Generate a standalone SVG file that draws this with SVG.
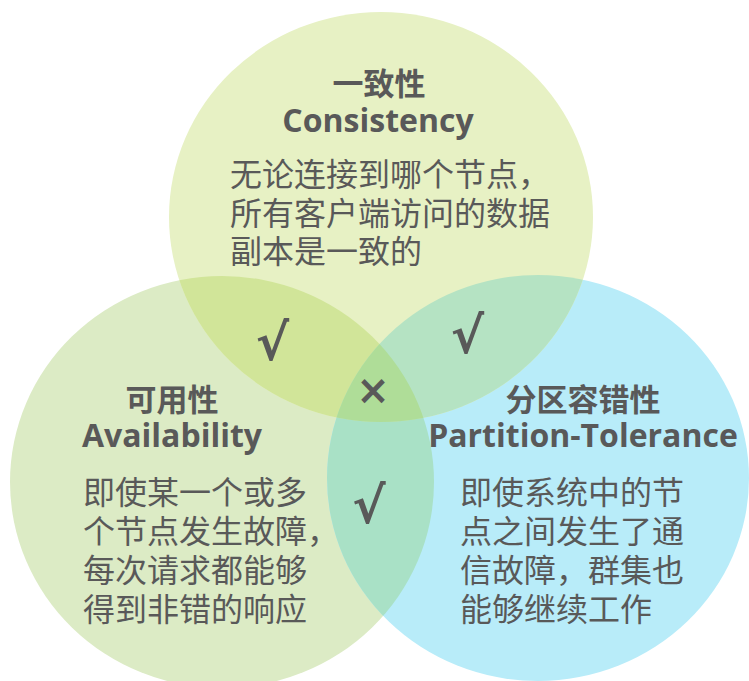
<svg xmlns="http://www.w3.org/2000/svg" width="749" height="681" viewBox="0 0 749 681">
<defs>
<style>
.t{fill:#595959;font-family:"Open Sans","Noto Sans CJK SC",sans-serif;font-weight:bold;font-size:32px;text-anchor:middle}
.zh{font-family:"Liberation Sans","Noto Sans CJK SC",sans-serif;font-size:31px}
.b{fill:#595959;font-family:"Liberation Sans","Noto Sans CJK SC",sans-serif;font-size:32px}
.m{fill:#595959;font-family:"DejaVu Sans",sans-serif;font-weight:bold;font-size:50px;text-anchor:middle}
.x{fill:#595959;font-family:"DejaVu Sans",sans-serif;font-weight:bold;font-size:40px;text-anchor:middle}
</style>
<clipPath id="cL"><ellipse cx="222" cy="482" rx="212" ry="206"/></clipPath>
<clipPath id="cR"><ellipse cx="538" cy="478" rx="211" ry="203"/></clipPath>
</defs>
<rect width="749" height="681" fill="#ffffff"/>
<g id="regions">
<ellipse cx="222" cy="482" rx="212" ry="206" fill="#dcebc5"/>
<ellipse cx="538" cy="478" rx="211" ry="203" fill="#b8ecf9"/>
<ellipse cx="381" cy="217" rx="212" ry="205" fill="#e7f1c4"/>
<g clip-path="url(#cR)"><ellipse cx="222" cy="482" rx="212" ry="206" fill="#a9e1c6"/></g>
<g clip-path="url(#cL)"><ellipse cx="381" cy="217" rx="212" ry="205" fill="#d1e599"/></g>
<g clip-path="url(#cR)"><ellipse cx="381" cy="217" rx="212" ry="205" fill="#b5e3c3"/></g>
<g clip-path="url(#cR)"><g clip-path="url(#cL)"><ellipse cx="381" cy="217" rx="212" ry="205" fill="#afdd98"/></g></g>
</g>
<g id="consistency">
<text class="t"><tspan class="zh" x="379" y="95">一致性</tspan><tspan x="378" y="132">Consistency</tspan></text>
<text class="b"><tspan x="230" y="186">无论连接到哪个节点，</tspan><tspan x="230" y="224.5">所有客户端访问的数据</tspan><tspan x="230" y="263">副本是一致的</tspan></text>
</g>
<g id="availability">
<text class="t"><tspan class="zh" x="172" y="411">可用性</tspan><tspan x="172" y="447">Availability</tspan></text>
<text class="b"><tspan x="83" y="504">即使某一个或多</tspan><tspan x="83" y="543">个节点发生故障，</tspan><tspan x="83" y="582">每次请求都能够</tspan><tspan x="83" y="621">得到非错的响应</tspan></text>
</g>
<g id="partition">
<text class="t"><tspan class="zh" x="583" y="411">分区容错性</tspan><tspan x="583" y="447">Partition-Tolerance</tspan></text>
<text class="b"><tspan x="460" y="504">即使系统中的节</tspan><tspan x="460" y="543">点之间发生了通</tspan><tspan x="460" y="582">信故障，群集也</tspan><tspan x="460" y="621">能够继续工作</tspan></text>
</g>
<g id="marks">
<text class="m" x="272.5" y="360">√</text>
<text class="m" x="467.5" y="353">√</text>
<text class="m" x="369" y="523">√</text>
<text class="x" x="373" y="404">×</text>
</g>
</svg>
